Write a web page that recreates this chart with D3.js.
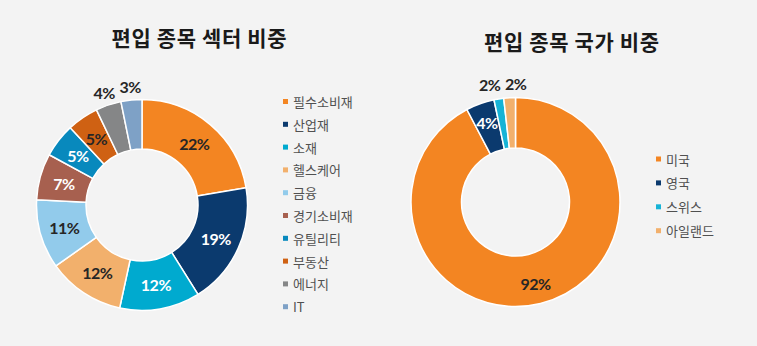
<!DOCTYPE html>
<html><head><meta charset="utf-8">
<script src="https://cdn.jsdelivr.net/npm/d3@7"></script>
<style>
html,body{margin:0;padding:0;background:#f3f3f3;}
svg{display:block;}
</style></head>
<body>
<svg id="chart" width="757" height="346"></svg>
<script>
// ---- data ----
const sectorTitle = "편입 종목 섹터 비중";
const sectorNames = ["필수소비재","산업재","소재","헬스케어","금융","경기소비재","유틸리티","부동산","에너지","IT"];
const sectorValues = [22.4, 18.7, 12.3, 11.8, 10.6, 7.1, 5.2, 4.8, 3.9, 3.2];

const countryTitle = "편입 종목 국가 비중";
const countryNames = ["미국","영국","스위스","아일랜드"];
const countryValues = [92.3, 4.4, 1.5, 1.8];

// ---- styles ----
const sectorColors = ["#F38522","#0B3A6E","#00AACF","#F2B06C","#92CBEB","#A7604F","#0889BD","#CF6113","#858687","#7EA1C6"];
const sectorLabelLight = [false,true,true,false,false,true,true,false,false,false];
const countryColors = ["#F38522","#0B3A6E","#16B3D6","#F2B06C"];
const countryLabelLight = [false,true,false,false];

const svg = d3.select("#chart");
const fmt = v => Math.round(v) + "%";

function drawDonut(cfg) {
  const g = svg.append("g").attr("transform", `translate(${cfg.cx},${cfg.cy})`);
  const pie = d3.pie().sort(null).value(d => d.v);
  const arcs = pie(cfg.names.map((n, i) => ({n, v: cfg.values[i], i})));
  const arc = d3.arc().innerRadius(cfg.ri).outerRadius(cfg.ro);
  g.selectAll("path.slice").data(arcs).join("path")
    .attr("class","slice")
    .attr("d", arc)
    .attr("fill", d => cfg.colors[d.data.i])
    .attr("stroke", "#ffffff")
    .attr("stroke-width", 1.5)
    .attr("stroke-linejoin","round");

  // labels
  const labArc = d3.arc().innerRadius(cfg.rl).outerRadius(cfg.rl);
  const outArc = d3.arc().innerRadius(cfg.rOut).outerRadius(cfg.rOut);
  const labels = arcs.map(d => {
    const inside = d.data.v >= cfg.insideMin;
    const p = (inside ? labArc : outArc).centroid(d);
    return {x: p[0], y: p[1], inside, d};
  });
  // de-overlap outside labels horizontally
  const outs = labels.filter(l => !l.inside).sort((a,b) => a.x - b.x);
  for (let k = 1; k < outs.length; k++) {
    const gap = outs[k].x - outs[k-1].x;
    if (gap < cfg.minGap) {
      const s = (cfg.minGap - gap) / 2;
      outs[k-1].x -= s; outs[k].x += s;
    }
  }
  g.selectAll("text.lab").data(labels).join("text")
    .attr("class","lab")
    .attr("x", l => l.x)
    .attr("y", l => l.y)
    .attr("text-anchor","middle")
    .attr("dominant-baseline","central")
    .attr("font-family","Lato, 'Noto Sans', sans-serif")
    .attr("font-weight","bold")
    .attr("font-size", 16)
    .attr("letter-spacing", -0.5)
    .attr("fill", l => (l.inside && cfg.light[l.d.data.i]) ? "#ffffff" : "#262626")
    .text(l => fmt(l.d.data.v));

  // legend
  const lg = svg.append("g").attr("transform", `translate(${cfg.lx},${cfg.ly})`);
  const rows = lg.selectAll("g").data(cfg.names).join("g")
    .attr("transform", (d,i) => `translate(0,${i*cfg.lstep})`);
  rows.append("rect").attr("x",0).attr("y",-2.5).attr("width",5).attr("height",5)
    .attr("fill",(d,i) => cfg.colors[i]);
  rows.append("text").attr("x",10).attr("y",0)
    .attr("dominant-baseline","central")
    .attr("font-family","'Noto Sans CJK KR', 'Noto Sans', sans-serif")
    .attr("font-size",13)
    .attr("fill","#505050")
    .text(d => d);

  // title
  svg.append("text")
    .attr("x", cfg.tx).attr("y", cfg.ty)
    .attr("text-anchor","middle")
    .attr("dominant-baseline","central")
    .attr("font-family","'Noto Sans CJK KR', sans-serif")
    .attr("font-weight","bold")
    .attr("font-size",21)
    .attr("fill","#1a1a1a")
    .attr("textLength",175)
    .attr("lengthAdjust","spacing")
    .text(cfg.title);
}

drawDonut({
  title: sectorTitle, names: sectorNames, values: sectorValues,
  colors: sectorColors, light: sectorLabelLight,
  cx: 142, cy: 205, ro: 105.5, ri: 56, rl: 81, rOut: 119, insideMin: 4.5, minGap: 26,
  lx: 283, ly: 101.5, lstep: 22.8, tx: 199, ty: 37
});
drawDonut({
  title: countryTitle, names: countryNames, values: countryValues,
  colors: countryColors, light: countryLabelLight,
  cx: 515.5, cy: 202, ro: 104.5, ri: 54, rl: 84, rOut: 119, insideMin: 3, minGap: 26,
  lx: 656, ly: 159, lstep: 23.9, tx: 571.5, ty: 41
});
</script>
</body></html>
